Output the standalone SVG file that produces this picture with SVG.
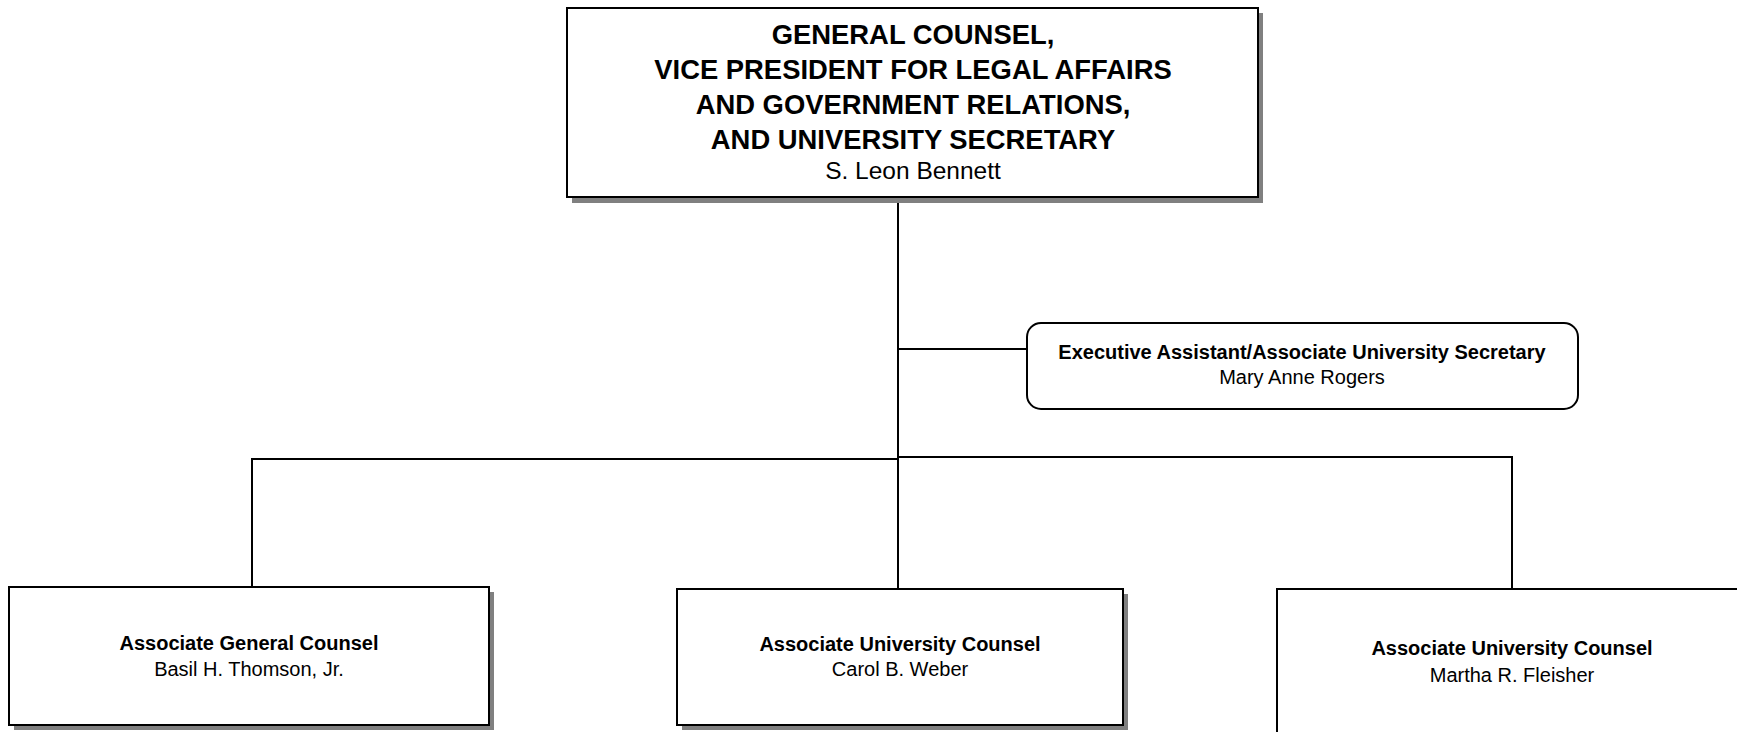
<svg xmlns="http://www.w3.org/2000/svg" width="1737" height="732" viewBox="0 0 1737 732">
<style>
  .box { fill: #ffffff; stroke: #000000; stroke-width: 2; }
  .shadow { fill: #808080; stroke: none; }
  .conn { stroke: #000000; stroke-width: 2; fill: none; }
  text { font-family: "Liberation Sans", Arial, Helvetica, sans-serif; fill: #000000; text-anchor: middle; }
  .title { font-size: 27.4px; font-weight: bold; }
  .tname { font-size: 24.5px; }
  .b { font-size: 20px; font-weight: bold; }
  .n { font-size: 20px; }
</style>
<rect width="1737" height="732" fill="#ffffff"/>
<g id="connectors">
  <line class="conn" x1="898" y1="198" x2="898" y2="589"/>
  <line class="conn" x1="898" y1="349" x2="1027" y2="349"/>
  <polyline class="conn" points="898,459 252,459 252,587"/>
  <polyline class="conn" points="898,457 1512,457 1512,589"/>
</g>
<g id="general-counsel">
  <rect class="shadow" x="572" y="13" width="691" height="190"/>
  <rect class="box" x="567" y="8" width="691" height="189"/>
  <text class="title" x="913" y="44">GENERAL COUNSEL,</text>
  <text class="title" x="913" y="79">VICE PRESIDENT FOR LEGAL AFFAIRS</text>
  <text class="title" x="913" y="114">AND GOVERNMENT RELATIONS,</text>
  <text class="title" x="913" y="149">AND UNIVERSITY SECRETARY</text>
  <text class="tname" x="913" y="179">S. Leon Bennett</text>
</g>
<g id="executive-assistant">
  <rect class="box" x="1027" y="323" width="551" height="86" rx="14" ry="14"/>
  <text class="b" x="1302" y="359">Executive Assistant/Associate University Secretary</text>
  <text class="n" x="1302" y="384">Mary Anne Rogers</text>
</g>
<g id="associate-general-counsel">
  <rect class="shadow" x="14" y="592" width="480" height="138"/>
  <rect class="box" x="9" y="587" width="480" height="138"/>
  <text class="b" x="249" y="650">Associate General Counsel</text>
  <text class="n" x="249" y="676">Basil H. Thomson, Jr.</text>
</g>
<g id="associate-university-counsel-weber">
  <rect class="shadow" x="682" y="594" width="446" height="136"/>
  <rect class="box" x="677" y="589" width="446" height="136"/>
  <text class="b" x="900" y="651">Associate University Counsel</text>
  <text class="n" x="900" y="676">Carol B. Weber</text>
</g>
<g id="associate-university-counsel-fleisher">
  <rect class="box" x="1277" y="589" width="480" height="160"/>
  <text class="b" x="1512" y="655">Associate University Counsel</text>
  <text class="n" x="1512" y="682">Martha R. Fleisher</text>
</g>
</svg>
